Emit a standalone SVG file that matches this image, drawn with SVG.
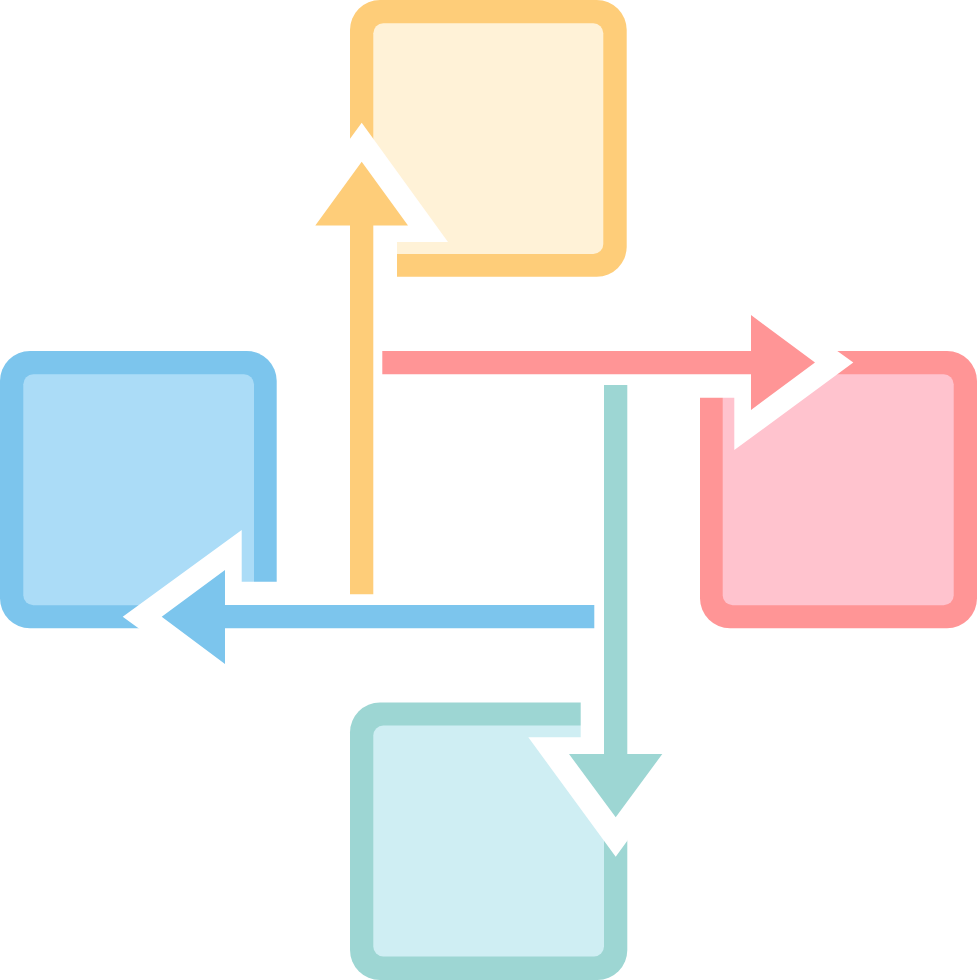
<svg xmlns="http://www.w3.org/2000/svg" width="977" height="980" viewBox="0 0 977 980">
  <style>
    .halo { fill: #ffffff; }
    .y-b { fill: #FECD79; } .y-f { fill: #FFF2D7; }
    .r-b { fill: #FF9596; } .r-f { fill: #FFC3CE; }
    .b-b { fill: #7CC5ED; } .b-f { fill: #ABDCF7; }
    .t-b { fill: #9DD6D3; } .t-f { fill: #CFEEF3; }
  </style>
  <rect width="977" height="980" fill="#ffffff"/>
  <g id="node-yellow">
    <rect class="y-b" x="350" y="0" width="276.7" height="276.7" rx="30"/>
    <rect class="y-f" x="373.3" y="23.3" width="230" height="230.7" rx="10"/>
  </g>
  <g id="node-pink">
    <rect class="r-b" x="700" y="351" width="277" height="277.3" rx="30"/>
    <rect class="r-f" x="722.7" y="374.3" width="231" height="231" rx="10"/>
  </g>
  <g id="node-blue">
    <rect class="b-b" x="0" y="351" width="276.7" height="277.3" rx="30"/>
    <rect class="b-f" x="23.3" y="374.3" width="230.7" height="231" rx="10"/>
  </g>
  <g id="node-teal">
    <rect class="t-b" x="350" y="702.5" width="277.3" height="277.5" rx="30"/>
    <rect class="t-f" x="373.3" y="725.5" width="230.7" height="231" rx="10"/>
  </g>
  <g id="connectors">
    <polygon class="halo" points="361.7,122.7 448,242 397,242 397,290 340,290 340,152.6"/>
    <polygon class="halo" points="853.3,362.5 822,340 690,340 690,397.7 734.3,397.7 734.3,450"/>
    <polygon class="halo" points="122.7,616.7 241.7,530 241.7,581.7 287,581.7 287,640 154.7,640"/>
    <polygon class="halo" points="615.7,856.7 528.3,737.3 580.7,737.3 580.7,690 637,690 637,827.5"/>
    <polygon class="y-b" points="361.7,161.7 408,225.5 373.3,225.5 373.3,594.3 350,594.3 350,225.5 315.3,225.5"/>
    <polygon class="r-b" points="815,362.5 751,410 751,374.3 382.3,374.3 382.3,351 751,351 751,315"/>
    <polygon class="b-b" points="161.7,616.7 225,570 225,605 594.3,605 594.3,628.3 225,628.3 225,664"/>
    <polygon class="t-b" points="615.7,817.3 569,754 604,754 604,385 627.3,385 627.3,754 662.3,754"/>
  </g>
</svg>
